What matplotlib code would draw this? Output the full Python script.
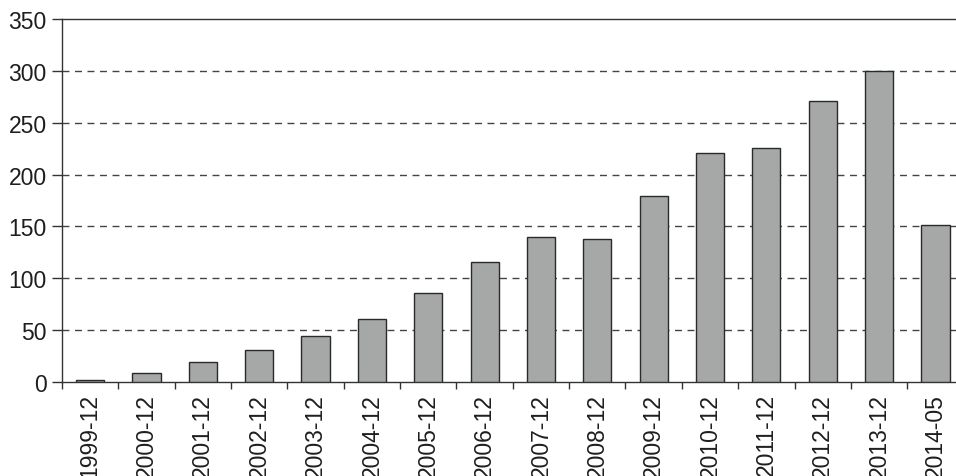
import numpy as np
import matplotlib.pyplot as plt

plt.rcParams['font.family'] = ['Liberation Sans', 'DejaVu Sans']

# categories and values
periodos = ["1999-12", "2000-12", "2001-12", "2002-12", "2003-12", "2004-12",
            "2005-12", "2006-12", "2007-12", "2008-12", "2009-12", "2010-12",
            "2011-12", "2012-12", "2013-12", "2014-05"]
valores = [2, 9, 19, 31, 44, 61, 86, 116, 139.5, 138, 179, 221, 226, 271, 299.5, 151]
y_ticks = [0, 50, 100, 150, 200, 250, 300, 350]

fig = plt.figure(figsize=(9.56, 4.77), dpi=100)
ax = fig.add_axes([62 / 956, 94 / 477, 901.6 / 956, 363 / 477])

x = np.arange(len(periodos))
ax.bar(x, valores, width=0.5, color="#a6a8a8", edgecolor="#2a2a2a", linewidth=1.0, zorder=3)

ax.set_xlim(-0.5, len(periodos) - 0.5)
ax.set_ylim(0, 350)
ax.set_yticks(y_ticks)
ax.set_yticklabels([str(v) for v in y_ticks], fontsize=16.5, color="#1e1e1e")

# ticks on x sit between the bars, labels at the bar centres
ax.set_xticks(np.arange(len(periodos) + 1) - 0.5)
ax.set_xticklabels([])
ax.set_xticks(x, minor=True)
ax.set_xticklabels(periodos, minor=True, rotation=90, fontsize=16.5, color="#1e1e1e")
ax.tick_params(axis="x", which="major", length=5, width=1, color="#333333")
ax.tick_params(axis="x", which="minor", length=0, pad=8)
ax.tick_params(axis="y", length=7, width=1, color="#333333", pad=4)

for v in y_ticks[1:-1]:
    ax.axhline(v, color="#444444", linestyle=(0, (5, 4)), linewidth=1.0, zorder=1)

for lado in ["left", "top", "bottom"]:
    ax.spines[lado].set_color("#333333")
    ax.spines[lado].set_linewidth(1.0)
ax.spines["right"].set_visible(False)

fig.savefig("out.png", dpi=100)
